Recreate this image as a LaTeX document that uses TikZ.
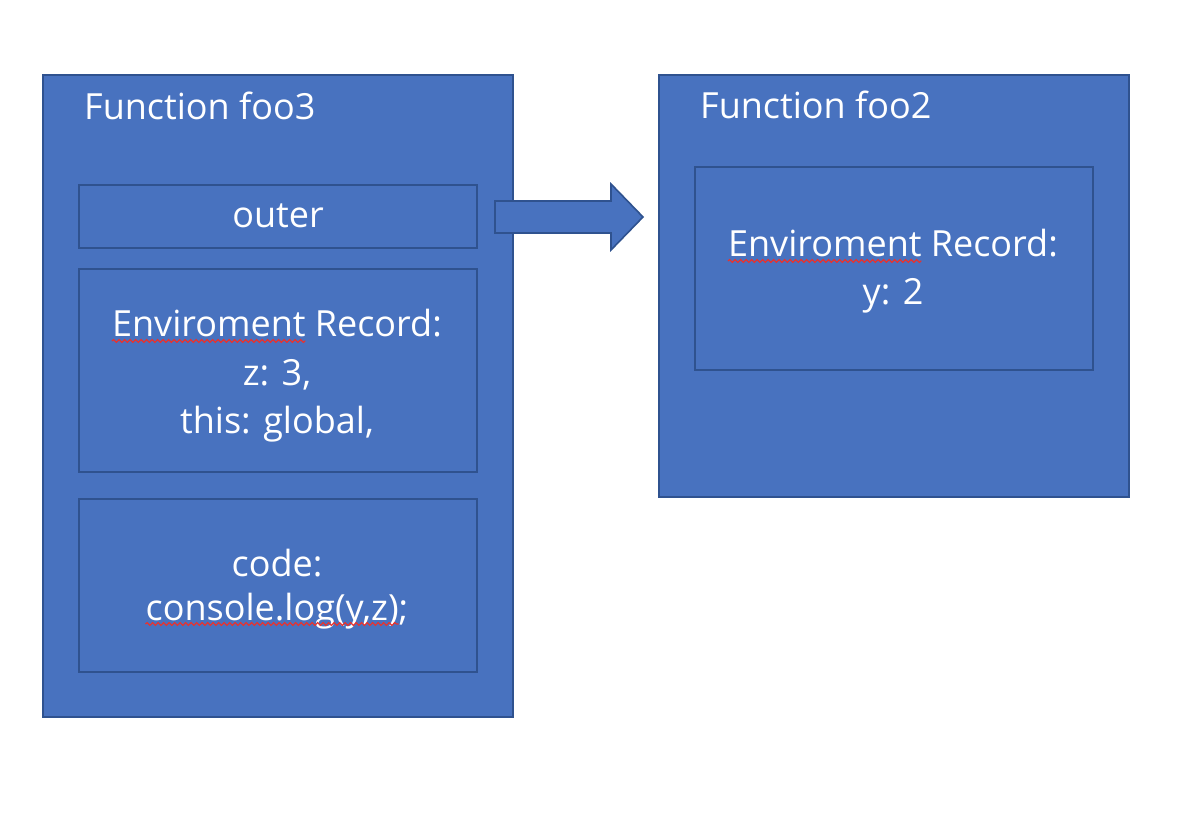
\documentclass[tikz,border=0pt]{standalone}
\usepackage{fontspec}
\setmainfont{Open Sans}
\usetikzlibrary{decorations.pathmorphing}
\definecolor{boxfill}{HTML}{4872BF}
\definecolor{boxline}{HTML}{2F528F}
\definecolor{squigred}{HTML}{E8322E}
\newcommand\txtfont{\fontsize{36}{42}\selectfont}
\newlength\sqwA
\newlength\sqwB
\begin{document}
\settowidth{\sqwA}{\txtfont Enviroment}%
\settowidth{\sqwB}{\txtfont console.log(y,z)}%
\begin{tikzpicture}[x=1pt,y=-1pt,
  panel/.style={draw=boxline,fill=boxfill,line width=1.6pt},
  txt/.style={inner sep=0pt,anchor=base,text=white,font=\txtfont},
  squig/.style={draw=squigred,line width=1.2pt,decorate,decoration={snake,amplitude=1.4pt,segment length=5.5pt}}]
\useasboundingbox (0,0) rectangle (1192,834);
\fill[white] (0,0) rectangle (1192,834);
% left function
\draw[panel] (43,75) rectangle (513,717);
\node[txt,anchor=base west] (t3) at (84,120) {Function foo3};
\draw[panel] (79,185) rectangle (477,248);
\node[txt] (outer) at (278,228) {outer};
\draw[panel] (79,269) rectangle (477,472);
\node[txt] (e1) at (277,337) {Enviroment Record:};
\node[txt] (e2) at (277,385) {z: 3,};
\node[txt] (e3) at (277,433) {this: global,};
\draw[panel] (79,499) rectangle (477,672);
\node[txt] (c1) at (277,576) {code:};
\node[txt] (c2) at (277,620) {console.log(y,z);};
\draw[squig] ([yshift=-4pt]e1.base west) -- ([yshift=-4pt,xshift=\sqwA]e1.base west);
\draw[squig] ([yshift=-4pt]c2.base west) -- ([yshift=-4pt,xshift=\sqwB]c2.base west);
% arrow
\draw[panel,line join=miter] (495,201) -- (611,201) -- (611,184) -- (643,217) -- (611,250) -- (611,233) -- (495,233) -- cycle;
% right function
\draw[panel] (659,75) rectangle (1129,497);
\node[txt,anchor=base west] (t2) at (700,119) {Function foo2};
\draw[panel] (695,167) rectangle (1093,370);
\node[txt] (r1) at (893,257) {Enviroment Record:};
\node[txt] (r2) at (893,305) {y: 2};
\draw[squig] ([yshift=-4pt]r1.base west) -- ([yshift=-4pt,xshift=\sqwA]r1.base west);
\end{tikzpicture}
\end{document}
